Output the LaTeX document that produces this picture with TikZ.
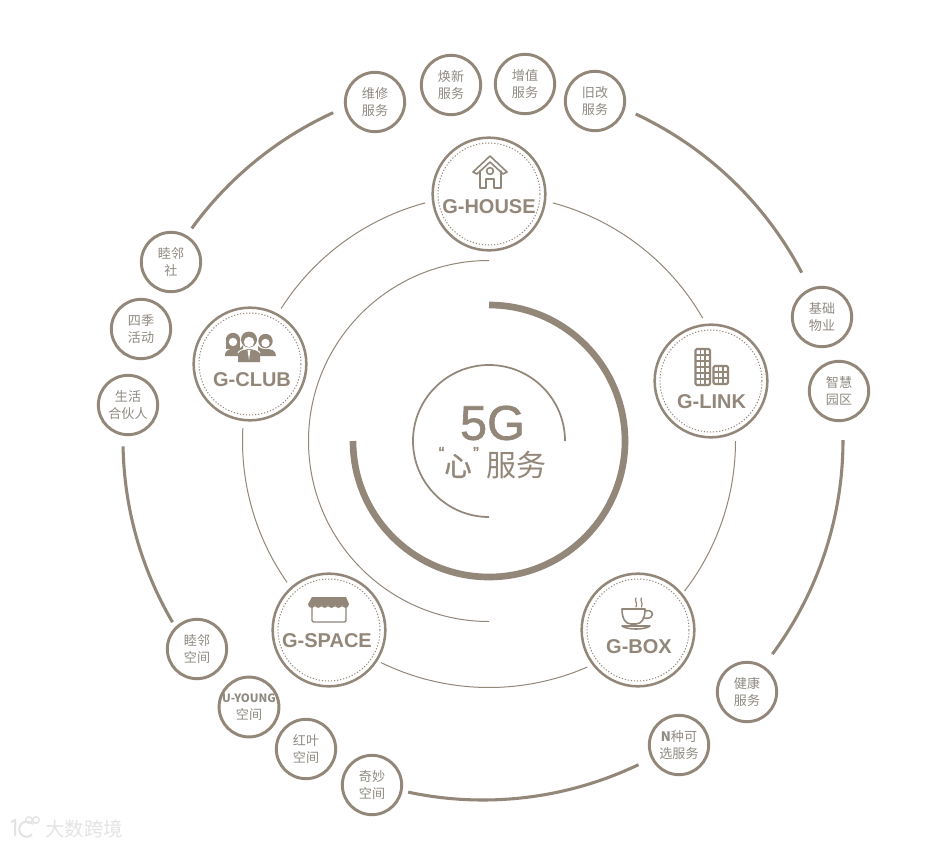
\documentclass[tikz,border=0pt]{standalone}
\usepackage{fontspec}
\setmainfont{Liberation Sans}
\newfontfamily\cjk{Noto Sans CJK SC}
\newfontfamily\cjkb[FakeBold=1.2]{Noto Sans CJK SC}
\newfontfamily\fivef[FakeBold=1.3]{Liberation Sans}
\definecolor{taupe}{HTML}{93877A}
\definecolor{greytxt}{HTML}{8F8A82}
\definecolor{wm}{HTML}{E4E4E4}
\tikzset{
  ringthin/.style={draw=taupe,line width=0.75pt},
  ringthick/.style={draw=taupe,line width=2.3pt},
  smallc/.style={circle,draw=taupe,line width=2.2pt,fill=white,minimum size=44.5pt,inner sep=0pt,
     align=center,text=greytxt,font=\cjk\fontsize{9.8}{12.6}\selectfont},
  bigc/.style={circle,draw=taupe,line width=1.9pt,fill=white,minimum size=84.5pt,inner sep=0pt},
  dotc/.style={circle,draw=taupe,line width=0.75pt,dash pattern=on 0.9pt off 1.4pt,minimum size=76.5pt,inner sep=0pt},
  biglab/.style={text=taupe,font=\bfseries\fontsize{15}{15}\selectfont,inner sep=0pt},
  iconline/.style={draw=taupe,line width=1.2pt,line join=round,line cap=round},
  wmtext/.style={text=wm,font=\cjk\fontsize{14.6}{15}\selectfont,inner sep=0pt}
}
\begin{document}
\begin{tikzpicture}[x=0.75pt,y=0.75pt]
\useasboundingbox (0,-846) rectangle (942,0);
\fill[white] (0,-846) rectangle (942,0);

% thin ring
\foreach \a/\b in {75/29.9,0/-37.5,-66.5/-116,215/177,147.5/105}
  \draw[ringthin] ([shift={(\a:246.5)}]489,-441) arc[start angle=\a,end angle=\b,radius=246.5];
% second thin arc (left half)
\draw[ringthin] ([shift={(90:180.5)}]489,-441) arc[start angle=90,end angle=270,radius=180.5];

% outer thick ring
\foreach \a/\b in {64.9/27.7,0/-36.5,-64.4/-102,210.4/181,144/114.6}
  \draw[ringthick] ([shift={(\a:360)}]483,-440) arc[start angle=\a,end angle=\b,radius=360];

% centre arcs
\draw[draw=taupe,line width=5pt] ([shift={(90:136)}]489,-441) arc[start angle=90,end angle=-180,radius=136];
\draw[draw=taupe,line width=1.3pt] ([shift={(0:76)}]489,-441) arc[start angle=0,end angle=270,radius=76];

\node[text=taupe,font=\fivef\fontsize{36.5}{36}\selectfont,inner sep=0pt] (fiveg) at (492.5,-423) {5G};
\node[text=taupe,font=\cjkb\fontsize{20.5}{20}\selectfont,inner sep=0pt] (xin) at (458,-466) {心};
\node[text=taupe,font=\fivef\fontsize{13}{13}\selectfont,inner sep=0pt] (q1) at (441.5,-453) {“};
\node[text=taupe,font=\fivef\fontsize{13}{13}\selectfont,inner sep=0pt] (q2) at (476,-453) {”};
\node[text=taupe,font=\cjk\fontsize{22.5}{22}\selectfont,inner sep=0pt] (fuwu) at (516,-465) {服务};

% big circles
\foreach \n/\x/\y in {house/489/-194,link/711/-381,box/638/-630,space/329/-630,club/250/-364}{
  \node[bigc] (\n) at (\x,\y) {};
  \node[dotc] (\n d) at (\x,\y) {};
}
\node[biglab] (lhouse) at (489,-206.5) {G-HOUSE};
\node[biglab] (llink)  at (711.5,-402) {G-LINK};
\node[biglab] (lbox)   at (639,-646.5) {G-BOX};
\node[biglab] (lspace) at (327,-641) {G-SPACE};
\node[biglab] (lclub)  at (252,-379.5) {G-CLUB};

% house icon
\draw[iconline] (473,-172) -- (490,-156) -- (507,-172) -- (503,-174) -- (490,-162) -- (477,-174) -- cycle;
\draw[iconline] (480,-171) -- (480,-188) -- (486,-188) -- (486,-179) -- (494,-179) -- (494,-188) -- (501,-188) -- (501,-171);
\draw[iconline] (490,-171) circle[radius=3.4];

% club icon
\fill[taupe] (225,-356) .. controls (225,-349) and (230,-350) .. (233,-348) .. controls (236,-350) and (241,-349) .. (243,-345) -- (243,-356) -- cycle;
\fill[taupe] (233,-340) circle[radius=7.2];
\fill[taupe] (226,-341) rectangle (240,-349);
\fill[white] (233,-342) circle[radius=4.2];
\fill[taupe] (258,-356) -- (258,-346) .. controls (261,-349) and (263,-349) .. (266,-349) .. controls (271,-349) and (276,-350) .. (276,-356) -- cycle;
\fill[taupe] (265.5,-341) circle[radius=7.2];
\fill[white] (265.5,-343) circle[radius=4.2];
\fill[taupe] (238,-362) -- (238,-355) .. controls (238,-351) and (244,-349) .. (249,-349) .. controls (254,-349) and (260,-351) .. (260,-355) -- (260,-362) -- cycle;
\draw[white,line width=0.7pt] (238,-353) .. controls (238,-351) and (244,-348.5) .. (249,-348.5) .. controls (254,-348.5) and (260,-351) .. (260,-353);
\fill[taupe] (249,-339.5) circle[radius=8];
\fill[white] (249,-342) circle[radius=5.2];
\fill[white] (247.5,-350) -- (250.5,-350) -- (249,-360) -- cycle;

% space icon
\draw[iconline,line width=1pt,rounded corners=1pt] (312,-606) rectangle (346,-622);
\fill[taupe] (312,-597) -- (346,-597) -- (349,-604) .. controls (349,-609) and (342.5,-609) .. (342,-604.5)
   .. controls (341.5,-609) and (335.5,-609) .. (335,-604.5) .. controls (334.5,-609) and (328.5,-609) .. (328,-604.5)
   .. controls (327.5,-609) and (322,-609) .. (321.5,-604.5) .. controls (321,-609) and (315.5,-609) .. (315,-604.5)
   .. controls (314.5,-609) and (308,-609) .. (308,-604) -- cycle;

% box icon
\draw[iconline] (622,-609) -- (645,-609) .. controls (645,-618) and (642,-624) .. (636,-624) -- (631,-624) .. controls (625,-624) and (622,-618) .. (622,-609) -- cycle;
\draw[iconline] (645,-611) .. controls (652,-609) and (654,-614) .. (651,-617) .. controls (649,-619) and (645,-618) .. (643,-618);
\draw[iconline] (622,-626) .. controls (627,-630) and (645,-630) .. (650,-626) -- cycle;
\draw[iconline,line width=0.9pt] (636,-598) .. controls (634,-600.5) and (638,-603) .. (636,-607);
\draw[iconline,line width=0.9pt] (641.5,-598) .. controls (639.5,-600.5) and (643.5,-603) .. (641.5,-607);

% link icon
\draw[iconline,rounded corners=1pt,line width=1.6pt] (695.5,-349) rectangle (710,-385);
\draw[iconline,line width=1.1pt] (700.5,-349) -- (700.5,-385) (705,-349) -- (705,-385);
\foreach \yy in {-355,-361,-367,-373,-379}
  \draw[iconline,line width=1.1pt] (695.5,\yy) -- (710,\yy);
\draw[iconline,rounded corners=1pt,line width=1.6pt] (713.5,-366) rectangle (728,-384);
\draw[iconline,line width=1.1pt] (718.5,-366) -- (718.5,-384) (723,-366) -- (723,-384) (713.5,-372) -- (728,-372) (713.5,-378) -- (728,-378);

% small circles
\foreach \n/\x/\y/\t in {
  s1/375/-102/{维修\\服务},
  s2/451/-85/{焕新\\服务},
  s3/525/-84/{增值\\服务},
  s4/595/-101/{旧改\\服务},
  s5/822/-317/{基础\\物业},
  s6/839/-391/{智慧\\园区},
  s7/747/-692/{健康\\服务},
  s9/372/-785/{奇妙\\空间},
  s10/306/-749/{红叶\\空间},
  s12/197/-649/{睦邻\\空间},
  s13/128/-405/{生活\\合伙人},
  s14/141/-329/{四季\\活动},
  s15/171/-262/{睦邻\\社}}
  \node[smallc] (\n) at (\x,\y) {\t};
\node[smallc] (s8) at (679,-745) {{\bfseries N}种可\\选服务};
\node[smallc] (s11) at (249,-707) {{\bfseries\fontsize{8.6}{12.6}\selectfont U-YOUNG}\\空间};

% watermark
\node[wmtext] (wmt) at (84,-829) {大数跨境};
\draw[wm,line width=1.5pt] (11,-822) -- (15,-820) -- (15,-836);
\draw[wm,line width=1.5pt] (33,-824) .. controls (22,-816) and (15,-830) .. (22,-835) .. controls (26,-838) and (30,-837) .. (32,-834);
\draw[wm,line width=1pt] (29,-820) circle[radius=3.3] (36,-820) circle[radius=3.3];
\end{tikzpicture}
\end{document}
